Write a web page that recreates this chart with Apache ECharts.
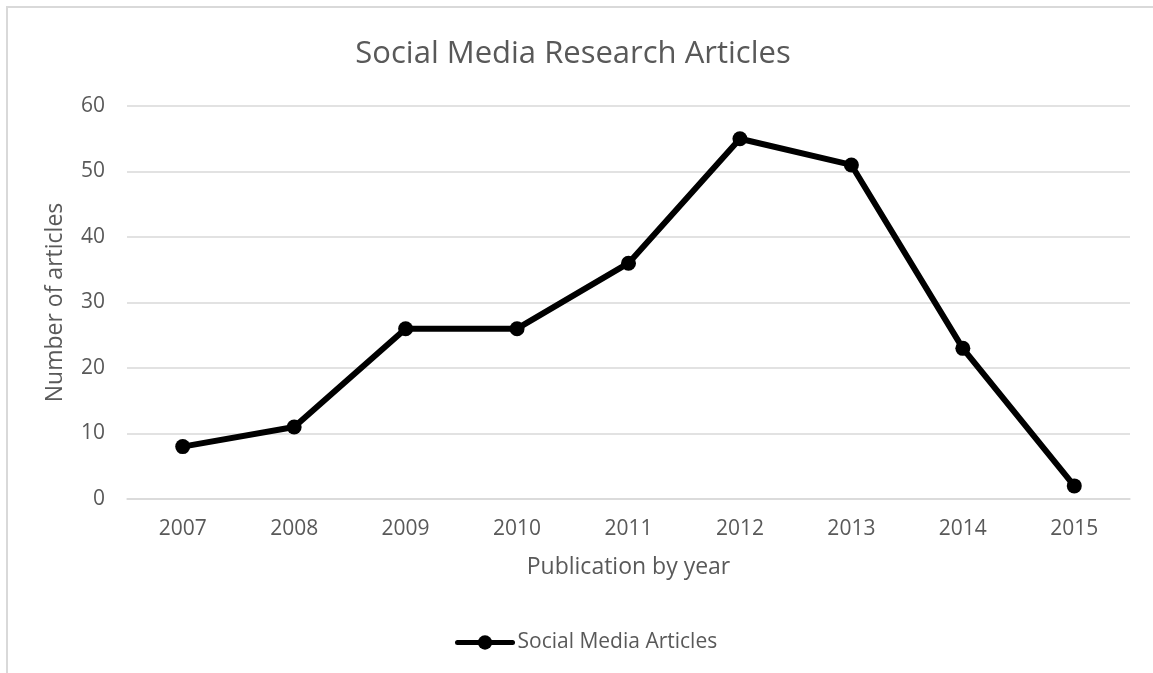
<!DOCTYPE html>
<html>
<head>
<meta charset="utf-8">
<title>Social Media Research Articles</title>
<script src="https://cdn.jsdelivr.net/npm/echarts@6/dist/echarts.min.js"></script>
<style>
  html, body { margin: 0; padding: 0; background: #ffffff; }
  #chart { width: 1153px; height: 673px; }
</style>
</head>
<body>
<div id="chart"></div>
<script>
// Publication years and article counts
const years = ['2007', '2008', '2009', '2010', '2011', '2012', '2013', '2014', '2015'];
const articleCounts = [8, 11, 26, 26, 36, 55, 51, 23, 2];
const seriesName = 'Social Media Articles';
const yTicks = { min: 0, max: 60, step: 10 };

const TEXT = '#595959';
const GRID = '#d9d9d9';
const FONT = '"Open Sans", "Liberation Sans", sans-serif';

const chart = echarts.init(document.getElementById('chart'), null, { renderer: 'canvas' });

chart.setOption({
  backgroundColor: '#ffffff',
  animation: false,
  textStyle: { fontFamily: FONT, color: TEXT },
  graphic: [{
    type: 'rect',
    silent: true,
    shape: { x: 7, y: 7, width: 1300, height: 800 },
    style: { fill: 'none', stroke: GRID, lineWidth: 2 }
  }],
  title: {
    text: 'Social Media Research Articles',
    left: 568,
    textAlign: 'center',
    top: 34,
    textStyle: { fontFamily: FONT, fontSize: 31, fontWeight: 'normal', color: TEXT }
  },
  legend: {
    left: 455,
    top: 632,
    padding: 0,
    itemWidth: 55,
    itemHeight: 18,
    lineStyle: { width: 5, color: '#000000', cap: 'round' },
    itemStyle: { color: '#000000' },
    textStyle: { fontFamily: FONT, fontSize: 21, color: TEXT },
    data: [seriesName]
  },
  grid: { left: 127, right: 23, top: 106, bottom: 174, containLabel: false },
  xAxis: {
    type: 'category',
    data: years,
    boundaryGap: true,
    name: 'Publication by year',
    nameLocation: 'middle',
    nameGap: 57,
    nameTextStyle: { fontFamily: FONT, fontSize: 23, color: TEXT },
    axisLine: { show: true, lineStyle: { color: GRID, width: 1.5 } },
    axisTick: { show: false },
    axisLabel: { fontFamily: FONT, fontSize: 21, color: TEXT, margin: 20 }
  },
  yAxis: {
    type: 'value',
    min: yTicks.min,
    max: yTicks.max,
    interval: yTicks.step,
    name: 'Number of articles',
    nameLocation: 'middle',
    nameGap: 60,
    nameTextStyle: { fontFamily: FONT, fontSize: 23, color: TEXT },
    axisLine: { show: false },
    axisTick: { show: false },
    axisLabel: { fontFamily: FONT, fontSize: 21, color: TEXT, margin: 22 },
    splitLine: { show: true, lineStyle: { color: GRID, width: 1.5 } }
  },
  series: [{
    name: seriesName,
    type: 'line',
    data: articleCounts,
    symbol: 'circle',
    symbolSize: 15,
    lineStyle: { color: '#000000', width: 6 },
    itemStyle: { color: '#000000' },
    emphasis: { disabled: true }
  }]
});
</script>
</body>
</html>
